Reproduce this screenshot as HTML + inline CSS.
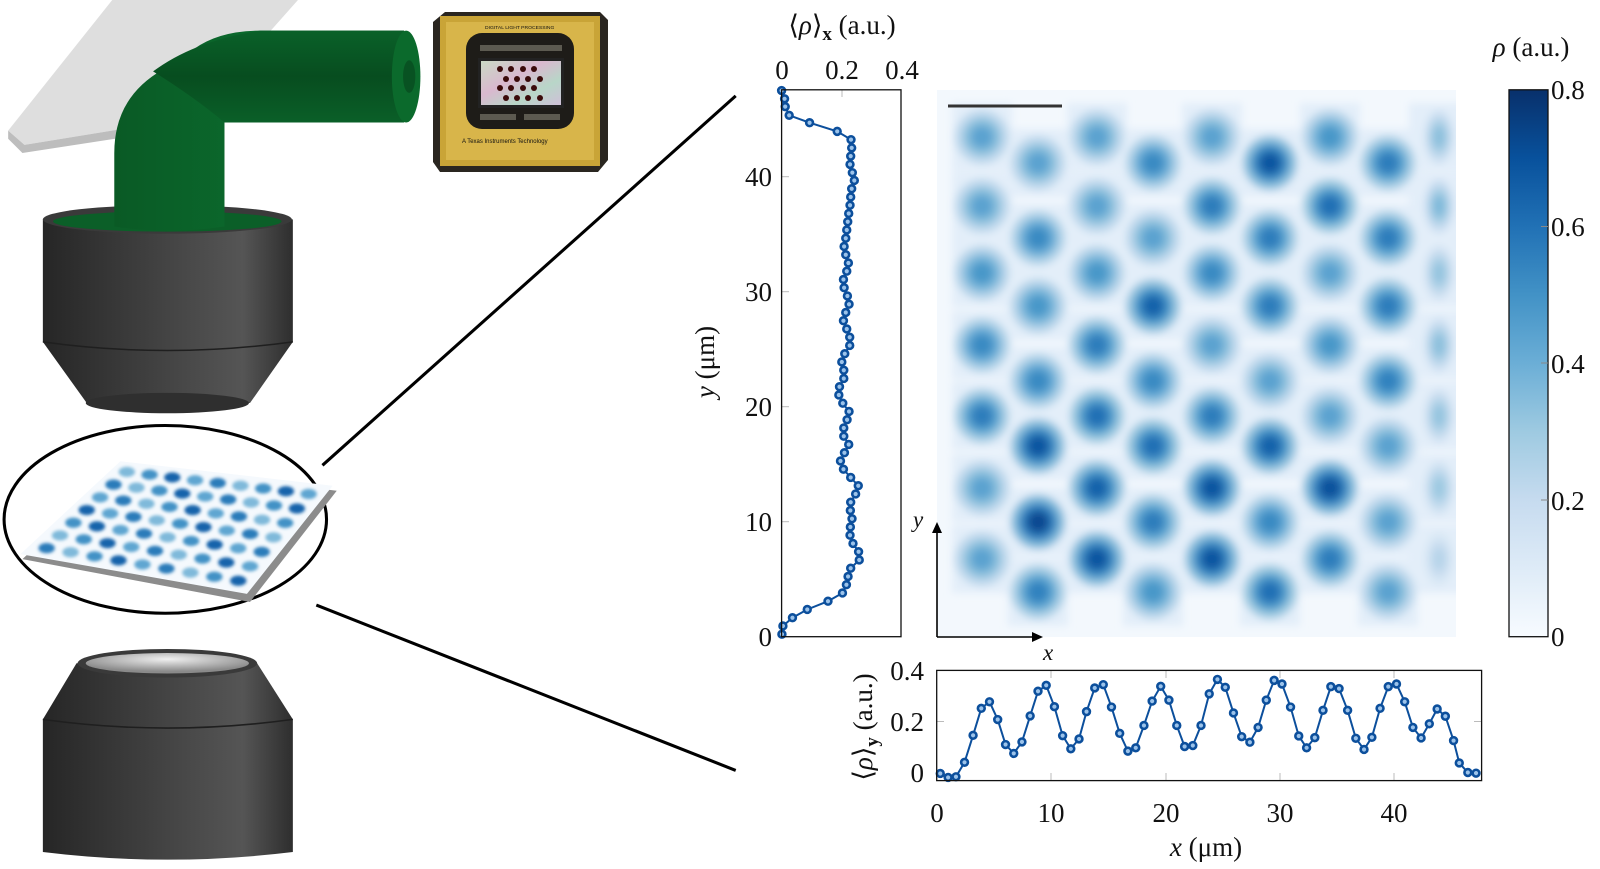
<!DOCTYPE html>
<html><head><meta charset="utf-8">
<style>
html,body{margin:0;padding:0;background:#fff;}
body{width:1600px;height:864px;overflow:hidden;}
svg text{font-family:"Liberation Serif","DejaVu Serif",serif;fill:#111;}
</style></head>
<body>
<svg id="s" width="1600" height="864" viewBox="0 0 1600 864" xmlns="http://www.w3.org/2000/svg">
<defs>
  <linearGradient id="gray" x1="0" x2="1" y1="0" y2="0">
    <stop offset="0" stop-color="#262626"/><stop offset="0.6" stop-color="#4a4a4a"/><stop offset="0.8" stop-color="#555"/><stop offset="1" stop-color="#2e2e2e"/>
  </linearGradient>
  <linearGradient id="green" x1="0" x2="1" y1="0" y2="0">
    <stop offset="0" stop-color="#0a5a25"/><stop offset="0.5" stop-color="#0b6a2d"/><stop offset="1" stop-color="#09521f"/>
  </linearGradient>
  <linearGradient id="greenh" x1="0" x2="0" y1="0" y2="1">
    <stop offset="0" stop-color="#0a6129"/><stop offset="0.5" stop-color="#074d1f"/><stop offset="1" stop-color="#0a5f28"/>
  </linearGradient>
  <radialGradient id="lens" cx="0.5" cy="0.3" r="0.6">
    <stop offset="0" stop-color="#f0f0f0"/><stop offset="1" stop-color="#8a8a8a"/>
  </radialGradient>
  <linearGradient id="mirror" x1="0" x2="1" y1="0" y2="1">
    <stop offset="0" stop-color="#c9d9c4"/><stop offset="0.4" stop-color="#d9b8cf"/><stop offset="0.7" stop-color="#b8d6c8"/><stop offset="1" stop-color="#cfc0d8"/>
  </linearGradient>
  <linearGradient id="cbar" x1="0" x2="0" y1="1" y2="0">
    <stop offset="0" stop-color="#f7fbff"/><stop offset="0.125" stop-color="#deebf7"/><stop offset="0.25" stop-color="#c6dbef"/><stop offset="0.375" stop-color="#9ecae1"/><stop offset="0.5" stop-color="#6baed6"/><stop offset="0.625" stop-color="#4292c6"/><stop offset="0.75" stop-color="#2171b5"/><stop offset="0.875" stop-color="#08519c"/><stop offset="1" stop-color="#08306b"/>
  </linearGradient>
  <filter id="blur" x="-20%" y="-20%" width="140%" height="140%"><feGaussianBlur stdDeviation="4"/></filter>
  <filter id="blur2"><feGaussianBlur stdDeviation="1.5"/></filter>
  <clipPath id="hmclip"><rect x="937" y="90" width="519" height="547"/></clipPath>
</defs>

<!-- LEFT ILLUSTRATION -->
<g transform="scale(1.0204)">
  <polygon points="8,128 110,0 292,0 190,115 24,142" fill="#dedede"/>
  <polygon points="8,128 24,142 190,115 190,124 22,150 8,136" fill="#bdbdbd"/>
  <path d="M42,215 L42,335 L85,395 L245,395 L287,335 L287,215 Z" fill="url(#gray)"/>
  <ellipse cx="164" cy="395" rx="80" ry="10" fill="#2f2f2f"/>
  <path d="M42,335 Q164,352 287,335" fill="none" stroke="#1f1f1f" stroke-width="1.5"/>
  <ellipse cx="164" cy="215" rx="122" ry="14" fill="#3a3a3a"/>
  <ellipse cx="164" cy="217" rx="112" ry="10" fill="#0b5f28"/>
  <path d="M112,222 L112,150 Q112,95 160,68 L190,48 Q215,30 255,30 L396,30 L396,120 L220,120 L220,222 Q166,230 112,222 Z" fill="url(#green)"/>
  <path d="M150,70 Q190,40 255,30 L396,30 L396,120 L220,120 Q190,95 150,70 Z" fill="url(#greenh)"/>
  <ellipse cx="398" cy="75" rx="14" ry="45" fill="#0b6a2c"/>
  <ellipse cx="401" cy="75" rx="6" ry="16" fill="#085222"/>
  <g transform="scale(0.98)">
    <polygon points="445,12 600,12 608,20 608,160 598,172 440,172 433,162 433,22" fill="#2a2620"/>
    <rect x="440" y="16" width="160" height="150" fill="#c9a437"/>
    <rect x="446" y="22" width="148" height="138" fill="#d8b54a"/>
    <rect x="466" y="33" width="108" height="96" rx="16" fill="#1e1c18"/>
    <rect x="478" y="58" width="86" height="50" fill="#222"/>
    <rect x="481" y="61" width="80" height="44" fill="url(#mirror)"/>
    <g fill="#3a0a0a">
      <circle cx="500" cy="69" r="3"/><circle cx="511" cy="69" r="3"/><circle cx="523" cy="69" r="3"/><circle cx="534" cy="69" r="3"/>
      <circle cx="506" cy="79" r="3"/><circle cx="517" cy="79" r="3"/><circle cx="528" cy="79" r="3"/><circle cx="540" cy="79" r="3"/>
      <circle cx="500" cy="88" r="3"/><circle cx="511" cy="88" r="3"/><circle cx="523" cy="88" r="3"/><circle cx="534" cy="88" r="3"/>
      <circle cx="506" cy="98" r="3"/><circle cx="517" cy="98" r="3"/><circle cx="528" cy="98" r="3"/><circle cx="540" cy="98" r="3"/>
    </g>
    <rect x="480" y="45" width="82" height="6" fill="#5c5a50"/>
    <rect x="480" y="114" width="36" height="6" fill="#5c5a50"/><rect x="524" y="114" width="36" height="6" fill="#5c5a50"/>
    <text x="485" y="29" font-size="5" style="font-family:'Liberation Sans',sans-serif" fill="#5a4410">DIGITAL LIGHT PROCESSING</text>
    <text x="462" y="143" font-size="6" style="font-family:'Liberation Sans',sans-serif" fill="#9a7a28">A Texas Instruments Technology</text>
  </g>
  <line x1="316" y1="456" x2="721" y2="94" stroke="#000" stroke-width="3"/>
  <line x1="310" y1="593" x2="721" y2="755" stroke="#000" stroke-width="3"/>
  <ellipse cx="162" cy="509" rx="158" ry="92" fill="#fff" stroke="#000" stroke-width="3"/>
  <polygon points="22,548 120,455 330,481 245,590" fill="#8c8c8c"/>
  <polygon points="20,543 118,452 326,476 242,582" fill="#f5f9fd"/>
  <g id="minidots" filter="url(#blur2)"></g>
  <path d="M75,650 L42,705 L42,835 Q164,850 287,835 L287,705 L252,650 Z" fill="url(#gray)"/>
  <path d="M42,705 Q164,722 287,705" fill="none" stroke="#1f1f1f" stroke-width="1.5"/>
  <ellipse cx="164" cy="650" rx="88" ry="14" fill="#3a3a3a"/>
  <ellipse cx="164" cy="650" rx="80" ry="10" fill="url(#lens)"/>
</g>

<!-- LEFT PROFILE PLOT -->
<g id="lp"></g>
<rect x="781.6" y="89.8" width="119.4" height="546.9" fill="none" stroke="#111" stroke-width="1.3"/>
<g font-size="27">
  <text x="782" y="79" text-anchor="middle">0</text>
  <text x="842" y="79" text-anchor="middle">0.2</text>
  <text x="902" y="79" text-anchor="middle">0.4</text>
  <text x="842" y="34" text-anchor="middle">⟨<tspan font-style="italic">ρ</tspan>⟩<tspan font-size="19" font-weight="bold" dy="6">x</tspan><tspan dy="-6"> (a.u.)</tspan></text>
  <text x="772" y="646" text-anchor="end">0</text>
  <text x="772" y="531" text-anchor="end">10</text>
  <text x="772" y="416" text-anchor="end">20</text>
  <text x="772" y="301" text-anchor="end">30</text>
  <text x="772" y="186" text-anchor="end">40</text>
  <text transform="translate(714,362) rotate(-90)" text-anchor="middle"><tspan font-style="italic">y</tspan> (μm)</text>
</g>

<!-- HEATMAP -->
<rect x="937" y="90" width="519" height="547" fill="#f3f8fd"/>
<g id="hm" clip-path="url(#hmclip)"><g id="hmi" filter="url(#blur)"></g></g>
<rect x="948" y="104.5" width="114" height="3" fill="#333"/>
<line x1="937" y1="637" x2="937" y2="530" stroke="#000" stroke-width="1.6"/>
<polygon points="937,522 932,533 942,533" fill="#000"/>
<line x1="937" y1="637" x2="1035" y2="637" stroke="#000" stroke-width="1.6"/>
<polygon points="1043,637 1032,632 1032,642" fill="#000"/>
<text x="913" y="527" font-size="23" font-style="italic">y</text>
<text x="1043" y="660" font-size="23" font-style="italic">x</text>

<!-- COLORBAR -->
<rect x="1509" y="89.8" width="39" height="546.9" fill="url(#cbar)" stroke="#111" stroke-width="1.3"/>
<g stroke="#888" stroke-width="1">
  <line x1="1541" y1="226.5" x2="1548" y2="226.5"/><line x1="1541" y1="363" x2="1548" y2="363"/><line x1="1541" y1="500" x2="1548" y2="500"/>
</g>
<g font-size="27">
  <text x="1551" y="99">0.8</text>
  <text x="1551" y="236">0.6</text>
  <text x="1551" y="373">0.4</text>
  <text x="1551" y="510">0.2</text>
  <text x="1551" y="646">0</text>
  <text x="1531" y="56" text-anchor="middle"><tspan font-style="italic">ρ</tspan> (a.u.)</text>
</g>

<!-- BOTTOM PLOT -->
<g id="bp"></g>
<rect x="936.7" y="670.4" width="544.9" height="110.2" fill="none" stroke="#111" stroke-width="1.3"/>
<g font-size="27">
  <text x="924" y="680" text-anchor="end">0.4</text>
  <text x="924" y="731" text-anchor="end">0.2</text>
  <text x="924" y="782" text-anchor="end">0</text>
  <text x="937" y="822" text-anchor="middle">0</text>
  <text x="1051" y="822" text-anchor="middle">10</text>
  <text x="1166" y="822" text-anchor="middle">20</text>
  <text x="1280" y="822" text-anchor="middle">30</text>
  <text x="1394" y="822" text-anchor="middle">40</text>
  <text x="1206" y="856" text-anchor="middle"><tspan font-style="italic">x</tspan> (μm)</text>
  <text transform="translate(872,727) rotate(-90)" text-anchor="middle">⟨<tspan font-style="italic">ρ</tspan>⟩<tspan font-size="19" font-weight="bold" dy="6">y</tspan><tspan dy="-6"> (a.u.)</tspan></text>
</g>
</svg>
<script>
var NS="http://www.w3.org/2000/svg";
function el(t,a,p){var e=document.createElementNS(NS,t);for(var k in a)e.setAttribute(k,a[k]);p.appendChild(e);return e;}
var B=[[247,251,255],[222,235,247],[198,219,239],[158,202,225],[107,174,214],[66,146,198],[33,113,181],[8,81,156],[8,48,107]];
function blues(v){v=Math.max(0,Math.min(1,v))*8;var i=Math.min(7,Math.floor(v)),f=v-i;var c=B[i].map(function(x,j){return Math.round(x+(B[i+1][j]-x)*f);});return "rgb("+c.join(",")+")";}
var hm=document.getElementById("hmi");
var colsX=[982,1038,1097,1153,1212,1270,1330,1388,1439];
var Ay=[137,206,273,345,416,488,559],By=[163,238,306,381,446,522,592];
var I=[[.55,.55,.6,.65,.7,.55,.55],[.55,.65,.6,.65,.85,.9,.68],[.55,.55,.6,.7,.75,.8,.85],[.65,.55,.8,.65,.75,.7,.6],[.55,.7,.65,.55,.7,.85,.85],[.85,.7,.7,.55,.8,.65,.75],[.6,.75,.55,.6,.55,.87,.7],[.7,.7,.7,.68,.55,.55,.55],[.42,.45,.4,.42,.4,.38,.3]];
for(var c=0;c<9;c++){var ys=(c%2==0)?Ay:By;for(var r=0;r<7;r++){
  el("rect",{x:colsX[c]-30,y:ys[r]-34,width:60,height:68,fill:blues(0.1)},hm);}}
for(var c=0;c<9;c++){var ys=(c%2==0)?Ay:By;var w=(c==8)?0.55:1;for(var r=0;r<7;r++){
  var v=I[c][r];
  el("ellipse",{cx:colsX[c],cy:ys[r],rx:27*w,ry:27,fill:blues(v*0.5)},hm);
  el("ellipse",{cx:colsX[c],cy:ys[r],rx:19*w,ry:19,fill:blues(v*0.78)},hm);
  el("ellipse",{cx:colsX[c],cy:ys[r],rx:11*w,ry:11,fill:blues(v*1.0)},hm);
}}
var md=document.getElementById("minidots");
for(var pass=0;pass<2;pass++)
for(var i=0;i<9;i++)for(var j=0;j<7;j++){
  if((i+j)%2!=pass)continue;
  var u=(i+0.7)/9.4,v=(j+0.7)/7.4;
  var x=(1-v)*((1-u)*118+u*326)+v*((1-u)*20+u*242);
  var y=(1-v)*((1-u)*452+u*476)+v*((1-u)*543+u*582);
  el("ellipse",{cx:x,cy:y,rx:8,ry:5,fill:blues(0.45+0.35*((i*7+j*3)%5)/4)},md);
}
var LC="#0c4f9c";
function series(g,pts,fx,fy){
  var d=pts.map(function(p){return fx(p[0])+","+fy(p[1]);}).join(" ");
  el("polyline",{points:d,fill:"none",stroke:LC,"stroke-width":2},g);
  pts.forEach(function(p){el("circle",{cx:fx(p[0]),cy:fy(p[1]),r:3.4,fill:"#9cc3ea",stroke:LC,"stroke-width":2.6},g);});
}
var lp=document.getElementById("lp");
el("line",{x1:842,y1:89.8,x2:842,y2:97,stroke:"#bbb"},lp);
[521.7,406.7,291.7,176.7].forEach(function(y){el("line",{x1:781.6,y1:y,x2:789,y2:y,stroke:"#bbb"},lp);});
var L=[[242,227],[251,247],[253,266],[265,287],[327,305],[411,326],[453,346],[455,366],[452,386],[450,406],[457,426],[463,445],[455,465],[452,485],[450,505],[446,525],[443,545],[440,565],[437,585],[432,605],[437,625],[445,645],[440,665],[430,685],[432,705],[442,725],[447,745],[437,765],[430,785],[440,805],[449,825],[449,845],[434,865],[425,885],[431,905],[431,925],[418,945],[416,965],[428,985],[447,1005],[441,1025],[431,1045],[431,1065],[446,1085],[433,1105],[421,1125],[430,1145],[452,1165],[475,1185],[467,1205],[452,1225],[451,1245],[456,1265],[451,1285],[450,1305],[459,1325],[476,1345],[478,1365],[452,1385],[444,1405],[439,1425],[427,1445],[383,1465],[320,1485],[275,1505],[246,1525],[243,1545]];
series(lp,L,function(x){return 781.6+(x-242)*0.329;},function(y){return 636.7-(1551-y)*0.4125;});
var bp=document.getElementById("bp");
[1051,1166,1280,1394].forEach(function(x){el("line",{x1:x,y1:780.6,x2:x,y2:773,stroke:"#bbb"},bp);el("line",{x1:x,y1:670.4,x2:x,y2:678,stroke:"#bbb"},bp);});
el("line",{x1:936.7,y1:721.5,x2:944,y2:721.5,stroke:"#bbb"},bp);el("line",{x1:1474,y1:721.5,x2:1481.6,y2:721.5,stroke:"#bbb"},bp);
var P=[[113,398],[135,410],[157,408],[181,364],[205,282],[228,200],[251,180],[274,234],[296,310],[319,337],[342,302],[365,223],[387,148],[410,130],[433,195],[456,283],[479,323],[502,293],[523,210],[546,138],[570,128],[593,196],[616,276],[639,330],[661,320],[684,252],[707,178],[731,133],[754,175],[776,252],[798,316],[821,313],[844,252],[867,156],[890,112],[912,136],[935,214],[958,286],[981,303],[1004,258],[1027,175],[1049,115],[1071,126],[1095,196],[1118,284],[1140,320],[1163,289],[1186,206],[1208,134],[1231,140],[1255,206],[1278,291],[1301,325],[1323,288],[1346,200],[1369,134],[1392,126],[1415,180],[1438,258],[1461,290],[1484,247],[1506,202],[1529,224],[1552,298],[1568,366],[1592,395],[1615,397]];
series(bp,P,function(x){return 936.7+(x-103)*0.3567;},function(y){return 772.5+(y-395)*0.329;});
</script>
</body></html>
